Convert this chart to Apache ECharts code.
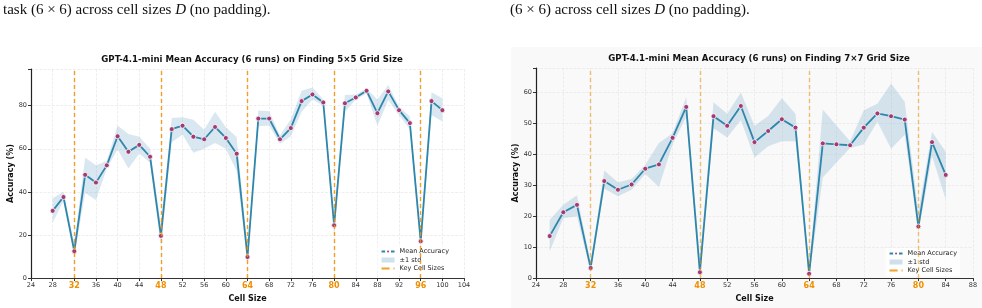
<!DOCTYPE html>
<html>
<head>
<meta charset="utf-8">
<script src="https://cdn.jsdelivr.net/npm/echarts@6/dist/echarts.min.js"></script>
<style>
  html, body { margin: 0; padding: 0; background: #fff; }
  #chart { width: 982px; height: 308px; }
</style>
</head>
<body>
<div id="chart"></div>
<script>
// left panel: 5x5 grid
const leftCells = [28,30,32,34,36,38,40,42,44,46,48,50,52,54,56,58,60,62,64,66,68,70,72,74,76,78,80,82,84,86,88,90,92,94,96,98,100];
const leftMean = [31.2,37.6,12.5,47.9,44.3,52.3,65.8,58.6,61.8,56.3,19.6,69.1,70.7,65.6,64.4,70.1,65.0,57.7,9.8,74.0,74.0,64.4,69.6,82.1,85.2,81.5,24.5,81.1,83.8,86.9,76.5,86.6,77.9,71.9,17.1,82.1,77.9];
const leftUpper = [37,40,16,55.8,52.3,54.3,70.8,66.8,65.6,60,24.5,74.3,74.6,73.4,68.8,77.2,70,65.5,13,77.7,77.4,66.2,73.7,86.9,88.4,82.9,29,84.9,85.2,88,82.9,89.6,79.5,75,21,86.2,83.4];
const leftLower = [25.7,35.8,10,39.5,36.2,50.8,59.7,50.8,57.8,53.5,14.5,63,66.5,58.1,60,62.7,60,49.7,7,70.5,70.8,62.3,65.8,77.2,82.9,80,19.9,77.2,82.9,85.6,70.7,82.6,75.7,69.1,13,75.7,72.7];
const leftKeys = [32,48,64,80,96];

// right panel: 7x7 grid
const rightCells = [26,28,30,32,34,36,38,40,42,44,46,48,50,52,54,56,58,60,62,64,66,68,70,72,74,76,78,80,82,84];
const rightMean = [13.6,21.3,23.7,3.3,31.4,28.6,30.3,35.4,36.8,45.4,55.4,1.9,52.4,49.3,55.7,44.0,47.6,51.4,48.7,1.4,43.6,43.3,43.0,48.7,53.3,52.4,51.3,16.7,44.0,33.4];
const rightUpper = [18.9,23.7,26.8,5,34.8,31,32.1,36.7,43.7,46.9,58.5,6,56.9,53.2,60.1,49.3,52.5,58.2,53.2,3,54.6,49.4,44.3,54.3,56.4,63,57.1,21.5,47.4,40.9];
const rightLower = [8.6,19.4,20,2,28.9,26.5,28.6,33.7,29.5,43.2,52.2,0,48.5,45.5,51.1,39,42.7,44.3,44.3,0,32.6,37.4,42.1,43.2,50.6,41.9,46.4,14.7,39.5,25.5];
const rightKeys = [32,48,64,80];

const leftTitle = 'GPT-4.1-mini Mean Accuracy (6 runs) on Finding 5×5 Grid Size';
const rightTitle = 'GPT-4.1-mini Mean Accuracy (6 runs) on Finding 7×7 Grid Size';

const LINE = '#2E86AB', MARK = '#A23B72', BAND = 'rgba(120,170,205,0.28)', KEY = '#F18F01';

const pairs = (xs, ys) => xs.map((x, i) => [x, ys[i]]);

function xAxisFor(idx, max, keys) {
  return {
    type: 'value', gridIndex: idx, min: 24, max: max, interval: 4,
    name: 'Cell Size', nameLocation: 'middle', nameGap: 13,
    nameTextStyle: { fontFamily: 'DejaVu Sans', fontWeight: 'bold', fontSize: 8, color: '#111' },
    axisLine: { onZero: false, lineStyle: { color: '#333', width: 1.2 } },
    axisTick: { length: 3, lineStyle: { color: '#333' } },
    splitLine: { show: true, lineStyle: { color: '#e6e6e6', type: 'dashed', width: 0.7 } },
    axisLabel: {
      fontFamily: 'DejaVu Sans', fontSize: 6.5, color: '#333', margin: 4,
      formatter: v => keys.includes(v) ? '{k|' + v + '}' : String(v),
      rich: { k: { color: KEY, fontWeight: 'bold', fontSize: 8, fontFamily: 'DejaVu Sans' } }
    }
  };
}

function yAxisFor(idx, max, step) {
  return {
    type: 'value', gridIndex: idx, min: 0, max: max, interval: step,
    name: 'Accuracy (%)', nameLocation: 'middle', nameGap: 15,
    nameTextStyle: { fontFamily: 'DejaVu Sans', fontWeight: 'bold', fontSize: 8, color: '#111' },
    axisLine: { show: true, lineStyle: { color: '#222', width: 1.2 } },
    axisTick: { show: true, length: 3, lineStyle: { color: '#333' } },
    splitLine: { show: true, lineStyle: { color: '#e6e6e6', type: 'dashed', width: 0.7 } },
    axisLabel: {
      fontFamily: 'DejaVu Sans', fontSize: 6.5, color: '#333', margin: 4,
      formatter: v => (v % step === 0 ? String(v) : '')
    }
  };
}

// std band drawn as one polygon, upper edge forward then lower edge back
function bandSeries(idx, xs, lo, hi) {
  return {
    name: '±1 std', type: 'custom', xAxisIndex: idx, yAxisIndex: idx,
    data: xs.map((x, i) => [x, lo[i], hi[i]]),
    encode: { x: 0, y: [1, 2] },
    itemStyle: { color: BAND }, silent: true, z: 1,
    renderItem: (params, api) => {
      if (params.dataIndex !== 0) return null;
      const top = xs.map((x, i) => api.coord([x, hi[i]]));
      const bot = xs.map((x, i) => api.coord([x, lo[i]])).reverse();
      return {
        type: 'polygon',
        shape: { points: top.concat(bot) },
        style: { fill: BAND, stroke: null }
      };
    }
  };
}

function seriesFor(idx, xs, mean, lo, hi, keys, keyOpacity) {
  return [
    bandSeries(idx, xs, lo, hi),
    { name: 'Mean Accuracy', type: 'line', xAxisIndex: idx, yAxisIndex: idx,
      data: pairs(xs, mean), symbol: 'circle', symbolSize: 5,
      lineStyle: { color: LINE, width: 1.8 },
      itemStyle: { color: MARK, borderColor: '#fff', borderWidth: 0.8 }, z: 3 },
    { name: 'Key Cell Sizes', type: 'line', xAxisIndex: idx, yAxisIndex: idx, data: [],
      symbol: 'none', lineStyle: { color: KEY, type: 'dashed', width: 1.4, opacity: keyOpacity },
      itemStyle: { color: KEY },
      markLine: { silent: true, symbol: 'none', label: { show: false }, z: 4,
        lineStyle: { color: KEY, type: [4, 3], width: 1.4, opacity: keyOpacity },
        data: keys.map(k => ({ xAxis: k })) } }
  ];
}

function legendFor(right, top) {
  return {
    right: right, top: top, orient: 'vertical', itemGap: 1.5, itemWidth: 13, itemHeight: 5,
    padding: [2, 3], backgroundColor: 'rgba(255,255,255,0.8)',
    textStyle: { fontFamily: 'DejaVu Sans', fontSize: 6.5, color: '#222' },
    data: [
      { name: 'Mean Accuracy' },
      { name: '±1 std', icon: 'rect', itemStyle: { color: 'rgba(120,170,205,0.35)' } },
      { name: 'Key Cell Sizes', itemStyle: { opacity: 0 } }
    ]
  };
}

const chart = echarts.init(document.getElementById('chart'), null, { renderer: 'canvas' });
chart.setOption({
  animation: false,
  backgroundColor: '#fff',
  graphic: [
    { type: 'rect', left: 511, top: 47, shape: { width: 471, height: 261 }, style: { fill: '#f9f9f9' }, z: -10 },
    { type: 'text', left: 3, top: 3, style: {
        text: 'task (6 × 6) across cell sizes {i|D} (no padding).',
        font: '15px "Liberation Serif"', fill: '#111',
        rich: { i: { fontStyle: 'italic', fontFamily: 'Liberation Serif', fontSize: 15 } } } },
    { type: 'text', left: 510, top: 3, style: {
        text: '(6 × 6) across cell sizes {i|D} (no padding).',
        font: '15px "Liberation Serif"', fill: '#111',
        rich: { i: { fontStyle: 'italic', fontFamily: 'Liberation Serif', fontSize: 15 } } } }
  ],
  title: [
    { text: leftTitle, left: 247, top: 50, textAlign: 'center',
      textStyle: { fontFamily: 'DejaVu Sans', fontWeight: 'bold', fontSize: 8.6, color: '#111' } },
    { text: rightTitle, left: 754, top: 49, textAlign: 'center',
      textStyle: { fontFamily: 'DejaVu Sans', fontWeight: 'bold', fontSize: 8.6, color: '#111' } }
  ],
  legend: [legendFor(530, 246), legendFor(22, 248)],
  grid: [
    { left: 31, right: 518, top: 69, bottom: 28 },
    { left: 536, right: 9, top: 68, bottom: 25 }
  ],
  xAxis: [xAxisFor(0, 104, leftKeys), xAxisFor(1, 88, rightKeys)],
  yAxis: [yAxisFor(0, 97, 20), yAxisFor(1, 68, 10)],
  series: [
    ...seriesFor(0, leftCells, leftMean, leftLower, leftUpper, leftKeys, 0.85),
    ...seriesFor(1, rightCells, rightMean, rightLower, rightUpper, rightKeys, 0.55)
  ]
});
</script>
</body>
</html>
